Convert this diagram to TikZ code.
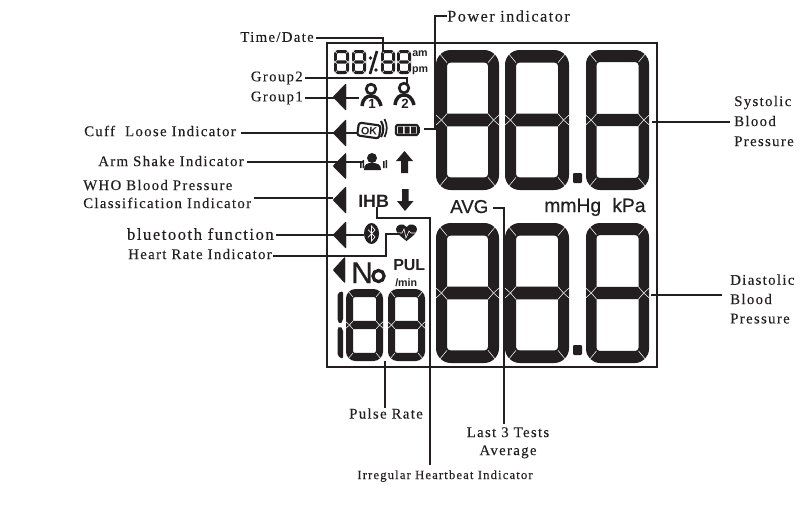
\documentclass[tikz,border=0pt]{standalone}
\usepackage{fontspec}
\setmainfont[LetterSpace=9,FakeBold=0.25]{Liberation Serif}
\newfontfamily\lcdfont{Liberation Sans}
\newfontfamily\lcdsemi[FakeBold=0.6]{Liberation Sans}
\definecolor{ink}{HTML}{231F20}
\tikzset{
  lab/.style={font=\fontsize{11.1pt}{13.5pt}\selectfont,text=ink,inner sep=0pt,align=center},
  wire/.style={draw=ink,line width=1.25pt},
  frm/.style={draw=ink,line width=1.5pt},
  lcd/.style={font=\lcdfont\bfseries,text=ink,inner sep=0pt},
  tri/.style={fill=ink,draw=ink,line width=.3pt,rounded corners=.6pt},
  gap/.style={draw=white,line width=.4pt}
}
% \segd{x0}{y0}{x1}{y1}{thickness}
\newcommand{\segd}[5]{%
  \pgfmathsetmacro{\xa}{#1}\pgfmathsetmacro{\ya}{#2}\pgfmathsetmacro{\xb}{#3}\pgfmathsetmacro{\yb}{#4}\pgfmathsetmacro{\tk}{#5}%
  \pgfmathsetmacro{\tv}{1.15*\tk}%
  \pgfmathsetmacro{\ym}{(\ya+\yb)/2}%
  \pgfmathsetmacro{\rr}{1.35*\tk}%
  \pgfmathsetmacro{\ri}{0.3*\tk}%
  \fill[ink,even odd rule] [rounded corners=\rr*.75pt] (\xa,\ya) rectangle (\xb,\yb)
     [rounded corners=\ri*.75pt] (\xa+\tk,\ya+\tv) rectangle (\xb-\tk,\yb-\tv);
  \fill[ink] (\xa+\tk*.5,\ym) -- (\xa+\tk,\ym-\tv*.5) -- (\xb-\tk,\ym-\tv*.5) -- (\xb-\tk*.5,\ym) -- (\xb-\tk,\ym+\tv*.5) -- (\xa+\tk,\ym+\tv*.5) -- cycle;
  \draw[gap] (\xa+.3*\tk,\ya+.3*\tk) -- (\xa+\tk,\ya+\tv);
  \draw[gap] (\xb-.3*\tk,\ya+.3*\tk) -- (\xb-\tk,\ya+\tv);
  \draw[gap] (\xa+.3*\tk,\yb-.3*\tk) -- (\xa+\tk,\yb-\tv);
  \draw[gap] (\xb-.3*\tk,\yb-.3*\tk) -- (\xb-\tk,\yb-\tv);
  \draw[gap] (\xa,\ym-\tk*.45) -- (\xa+\tk*.5,\ym) -- (\xa,\ym+\tk*.45);
  \draw[gap] (\xa+\tk,\ym-\tv*.5) -- (\xa+\tk*.5,\ym) -- (\xa+\tk,\ym+\tv*.5);
  \draw[gap] (\xb,\ym-\tk*.45) -- (\xb-\tk*.5,\ym) -- (\xb,\ym+\tk*.45);
  \draw[gap] (\xb-\tk,\ym-\tv*.5) -- (\xb-\tk*.5,\ym) -- (\xb-\tk,\ym+\tv*.5);
}
% \ltri{tipx}{basex}{tipy}{halfheight}
\newcommand{\ltri}[4]{\path[tri] (#1,#3) -- (#2,#3-#4) -- (#2,#3+#4) -- cycle;}
\begin{document}
\begin{tikzpicture}[x=.75pt,y=-.75pt]
\useasboundingbox (0,0) rectangle (806,504);
% frame
\draw[frm] (327,43) rectangle (657,367);
% big digits
\segd{436}{50}{499}{190}{11}
\segd{505}{50}{569}{190}{11}
\segd{586}{50}{649}{190}{10.5}
\fill[ink,rounded corners=.8pt] (573,173) rectangle (582,183);
\segd{436}{223}{499}{363}{11}
\segd{505}{223}{569}{363}{11}
\segd{586}{223}{649}{363}{10.5}
\fill[ink,rounded corners=.8pt] (573,345) rectangle (582,355);
% time digits
\segd{334}{50}{349}{74}{2.8}
\segd{352}{50}{366}{74}{2.8}
\segd{381}{50}{395}{74}{2.8}
\segd{397}{50}{411}{74}{2.8}
\draw[ink,line width=2pt] (370,74) -- (377,51);
\fill[ink] (370.5,58) circle (1.9) (376,70) circle (1.9);
\node[lcd,font=\lcdfont\bfseries\fontsize{8pt}{8pt}\selectfont] (am) at (420,54) {am};
\node[lcd,font=\lcdfont\bfseries\fontsize{8pt}{8pt}\selectfont] (pm) at (420,71) {pm};
% triangles
\ltri{333}{346}{97}{13.5}
\ltri{333}{346}{133}{13.5}
\ltri{333}{346}{166}{13}
\ltri{333}{346}{200}{13.5}
\ltri{333}{346}{235}{13.5}
\ltri{333}{345}{270}{13}
% person 1
\draw[ink,line width=2pt] (371,89) circle (4.8);
\draw[ink,line width=2.6pt] (362,106) .. controls (363,98) and (367,96) .. (371,96) .. controls (375,96) and (379,98) .. (381,106);
\node[lcd,font=\lcdfont\bfseries\fontsize{10pt}{10pt}\selectfont] (pone) at (372,104) {1};
% person 2
\draw[ink,line width=2pt] (404,88) circle (4.8);
\draw[ink,line width=2.6pt] (395,105) .. controls (396,97) and (400,95) .. (404,95) .. controls (408,95) and (412,97) .. (414,105);
\node[lcd,font=\lcdfont\bfseries\fontsize{10pt}{10pt}\selectfont] (ptwo) at (405,104) {2};
% cuff icon
\draw[ink,line width=1.6pt,rounded corners=2pt,rotate around={-8:(369,130)}] (358,124) rectangle (380,137);
\node[lcd,font=\lcdfont\bfseries\fontsize{8pt}{8pt}\selectfont,rotate=-4] (okk) at (369,131) {OK};
\draw[ink,line width=1.6pt] (381,121) .. controls (384,126) and (384,132) .. (381,137);
\draw[ink,line width=1.3pt] (384.5,119) .. controls (387.5,125) and (387.5,131) .. (384.5,137);
% battery
\draw[ink,line width=1.6pt,rounded corners=1pt] (396,125) rectangle (418,135);
\fill[ink] (418,127) rectangle (420,133);
\fill[ink] (398,126.5) rectangle (403,133.5) (404.5,126.5) rectangle (409.5,133.5) (411,126.5) rectangle (416,133.5);
% arm shake person
\fill[ink] (372,158) circle (5);
\fill[ink] (364,170) .. controls (364,164) and (367,163) .. (372,163) .. controls (377,163) and (381,164) .. (381,170) -- cycle;
\fill[ink] (360,161) rectangle (361.5,168) (362.6,160) rectangle (364,168);
\fill[ink] (383,161) rectangle (384.5,168) (385.6,160) rectangle (387,168);
% up/down arrows
\fill[ink] (404.5,151) -- (413,161) -- (408,161) -- (408,173) -- (401,173) -- (401,161) -- (396,161) -- cycle;
\fill[ink] (405,211) -- (397,201) -- (402,201) -- (402,189) -- (408.5,189) -- (408.5,201) -- (413.5,201) -- cycle;
% IHB
\node[lcd,font=\lcdfont\bfseries\fontsize{13.4pt}{15pt}\selectfont,anchor=base west] (ihb) at (358,207) {IHB};
% bluetooth
\fill[ink] (371.5,233.5) ellipse (7.5 and 10.5);
\draw[white,line width=.5pt] (368,229.5) -- (375,237) -- (371.5,241) -- (371.5,226) -- (375,230) -- (368,237.5);
% heart
\fill[ink] (406.5,241) .. controls (400,236) and (396,233) .. (396,229) .. controls (396,225) and (403,222) .. (406.5,227) .. controls (410,222) and (417,225) .. (417,229) .. controls (417,233) and (413,236) .. (406.5,241) -- cycle;
\draw[white,line width=.45pt] (396,233) -- (402,233) -- (404,229) -- (406,238) -- (409,231) -- (411,233) -- (417,233);
% No, PUL
\node[lcd,font=\lcdsemi\fontsize{22.5pt}{24pt}\selectfont,anchor=base west] (nno) at (351,283) {N};
\draw[ink,line width=2.4pt] (378.5,276) circle (5.6);
\node[lcd,font=\lcdfont\bfseries\fontsize{12pt}{13pt}\selectfont,anchor=base west] (pul) at (393,270) {PUL};
\node[lcd,font=\lcdfont\bfseries\fontsize{8pt}{9pt}\selectfont,anchor=base west] (pmin) at (395,286) {/min};
% pulse digits
\fill[ink,rounded corners=1.5pt] (337.5,293) -- (343,291) -- (343,321) -- (340,324) -- (337.5,321) -- cycle;
\fill[ink,rounded corners=1.5pt] (337.5,328) -- (340,326) -- (343,329) -- (343,359) -- (337.5,356) -- cycle;
\segd{346}{289}{383}{361}{7}
\segd{388}{289}{425}{361}{7}
% AVG, units
\node[lcd,font=\lcdsemi\fontsize{14pt}{15pt}\selectfont,anchor=base west] (avg) at (450,213) {AVG};
\node[lcd,font=\lcdsemi\fontsize{14.5pt}{14pt}\selectfont,anchor=base west] (mmhg) at (544,212) {mmHg};
\node[lcd,font=\lcdsemi\fontsize{14.5pt}{14pt}\selectfont,anchor=base west] (kpa) at (612,212) {kPa};
% labels
\node[lab,anchor=east] (ltime) at (314,37) {Time/Date};
\node[lab,anchor=west,font=\fontsize{12.2pt}{14pt}\selectfont] (lpower) at (447,16) {Power indicator};
\node[lab,anchor=east] (lg2) at (303,78) {Group2};
\node[lab,anchor=east] (lg1) at (303,98) {Group1};
\node[lab,anchor=east] (lcuff) at (236,131) {Cuff\ \ Loose Indicator};
\node[lab,anchor=east] (larm) at (244,161) {Arm Shake Indicator};
\node[lab,anchor=west,align=left] (lwho) at (83,194) {WHO Blood Pressure\\Classification Indicator};
\node[lab,anchor=east,font=\fontsize{12.5pt}{14pt}\selectfont] (lblue) at (274,234) {bluetooth function};
\node[lab,anchor=east] (lheart) at (272,254) {Heart Rate Indicator};
\node[lab,anchor=north] (lpulse) at (386,408) {Pulse Rate};
\node[lab,anchor=north] (llast) at (508,427) {Last 3 Tests\\Average};
\node[lab,anchor=north,font=\fontsize{9.5pt}{11pt}\selectfont] (lirr) at (445,470) {Irregular Heartbeat Indicator};
\node[lab,anchor=west,align=left] (lsys) at (734,121) {Systolic\\[1.5pt]Blood\\[1.5pt]Pressure};
\node[lab,anchor=west,align=left] (ldia) at (730,299) {Diastolic\\[1pt]Blood\\[1pt]Pressure};
% connector ends
\coordinate (ctime) at (383,52);
\coordinate (cpow) at (424,129);
\coordinate (cg2) at (407,83);
\coordinate (cg1) at (359,98);
\coordinate (ccuff) at (357,133);
\coordinate (carm) at (363,162);
\coordinate (cblue) at (364,235);
\coordinate (cheart) at (400,234);
\coordinate (cpul) at (385,361);
\coordinate (cihb) at (377,207);
\coordinate (cavg) at (493,208);
\coordinate (cwho) at (333,198);
\coordinate (csys) at (652,122);
\coordinate (cdia) at (651,295);
\coordinate (cirr) at (430,465);
\coordinate (clast) at (504,424);
% connectors
\draw[wire] (ltime.east)++(2,1) -| (ctime);
\draw[wire] (lpower.west) -- (435,16) -- (435,129) -- (cpow);
\draw[wire] (lg2.east)++(2,0) -- (407,78) -- (cg2);
\draw[wire] (lg1.east)++(2,0) -- (cg1);
\draw[wire] (lcuff.east)++(5,2) -- (ccuff);
\draw[wire] (larm.east)++(3,1) -- (carm);
\draw[wire] (lwho.east)++(3,4) -- (cwho);
\draw[wire] (lblue.east)++(2,1) -- (cblue);
\draw[wire] (lheart.east)++(1,2) -- (386,256) -- (386,234) -- (cheart);
\draw[wire] (cpul) -- (cpul |- lpulse.north);
\draw[wire] (cihb) -- (377,218) -- (430,218) -- (cirr);
\draw[wire] (cavg) -- (504,208) -- (clast);
\draw[wire] (csys) -- (730,122);
\draw[wire] (cdia) -- (722,295);
\end{tikzpicture}
\end{document}
